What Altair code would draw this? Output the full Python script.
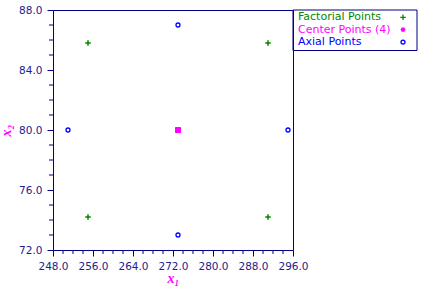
import altair as alt
import pandas as pd

# ---- data ----
factorial_x = [255.0, 291.0, 255.0, 291.0]
factorial_y = [74.2, 74.2, 85.8, 85.8]
center_x = [273.0, 273.0, 273.0, 273.0]
center_y = [80.0, 80.0, 80.0, 80.0]
axial_x = [251.0, 295.0, 273.0, 273.0]
axial_y = [80.0, 80.0, 73.0, 87.0]

x_major = [248, 256, 264, 272, 280, 288, 296]
y_major = [72, 76, 80, 84, 88]
x_minor = [v for v in range(248, 297, 2) if v % 8 != 0]
y_minor = [v for v in range(72, 89) if v % 4 != 0]

legend_labels = ["Factorial Points", "Center Points (4)", "Axial Points"]
legend_colors = ["#008800", "#FF00FF", "#0000FF"]

NAVY = "#000080"
FONT = "DejaVu Sans"
W, H = 240, 240

plus_path = "M-1,0L1,0M0,-1L0,1"
star_path = "M-1,0L1,0M0,-1L0,1M-0.7,-0.7L0.7,0.7M-0.7,0.7L0.7,-0.7"

xs = alt.Scale(domain=[248, 296], nice=False, zero=False)
ys = alt.Scale(domain=[72, 88], nice=False, zero=False)

common = dict(format=".1f", tickSize=6, tickColor=NAVY, domainColor=NAVY,
              labelColor="#22228a", labelFont=FONT, labelFontSize=10.5,
              labelOverlap=False, labelFlush=False, grid=False,
              titleColor="#FF00FF", titleFont="Liberation Serif",
              titleFontStyle="italic", titleFontWeight="bold", titleFontSize=14)
xaxis = alt.Axis(values=x_major, labelPadding=5, title="x₁", titlePadding=0, **common)
yaxis = alt.Axis(values=y_major, labelPadding=5, title="x₂", titlePadding=5, **common)

X = lambda f: alt.X(f, scale=xs, axis=xaxis)
Y = lambda f: alt.Y(f, scale=ys, axis=yaxis)

fact_df = pd.DataFrame({"x": factorial_x, "y": factorial_y})
cent_df = pd.DataFrame({"x": center_x, "y": center_y})
axial_df = pd.DataFrame({"x": axial_x, "y": axial_y})

fact = alt.Chart(fact_df).mark_point(shape=plus_path, size=30, strokeWidth=1.5,
                                     color="#008800", opacity=1).encode(
    x=X("x:Q"), y=Y("y:Q"))
cent = alt.Chart(cent_df).mark_point(shape="square", size=28, filled=True,
                                     color="#FF00FF", opacity=1).encode(
    x=X("x:Q"), y=Y("y:Q"))
axial = alt.Chart(axial_df).mark_point(shape="circle", size=16, strokeWidth=1.3,
                                       color="#0000FF", opacity=1).encode(
    x=X("x:Q"), y=Y("y:Q"))

xmin_df = pd.DataFrame({"v": x_minor})
ymin_df = pd.DataFrame({"v": y_minor})
xminor = alt.Chart(xmin_df).mark_rule(color=NAVY, strokeWidth=1).encode(
    x=X("v:Q"), y=alt.value(H), y2=alt.value(H + 4))
yminor = alt.Chart(ymin_df).mark_rule(color=NAVY, strokeWidth=1).encode(
    y=Y("v:Q"), x=alt.value(0), x2=alt.value(-4))

layers = [fact, cent, axial, xminor, yminor]

# legend box
box = alt.Chart(pd.DataFrame({"a": [0]})).mark_rect(fill=None, stroke=NAVY, strokeWidth=1).encode(
    x=alt.value(W), x2=alt.value(W + 124), y=alt.value(0), y2=alt.value(40.5))
layers.append(box)

shapes = [plus_path, star_path, "circle"]
sizes = [30, 22, 16]
for i, (lab, col) in enumerate(zip(legend_labels, legend_colors)):
    d = pd.DataFrame({"label": [lab]})
    yy = 7.3 + 12.4 * i
    layers.append(alt.Chart(d).mark_text(align="left", baseline="middle",
                                          font=FONT, fontSize=11, color=col).encode(
        text="label:N", x=alt.value(W + 5), y=alt.value(yy)))
    layers.append(alt.Chart(d).mark_point(shape=shapes[i], size=sizes[i], strokeWidth=1.3,
                                           color=col, opacity=1).encode(
        x=alt.value(W + 110), y=alt.value(yy)))

chart = alt.layer(*layers).properties(
    width=W, height=H,
    autosize=alt.AutoSizeParams(type="none"),
    padding={"left": 53, "top": 10, "right": 128, "bottom": 38},
).configure_view(stroke=NAVY, strokeWidth=1).configure_axis(labelOverlap=False)

chart.save("out.html", embed_options={"renderer": "svg", "actions": False})
